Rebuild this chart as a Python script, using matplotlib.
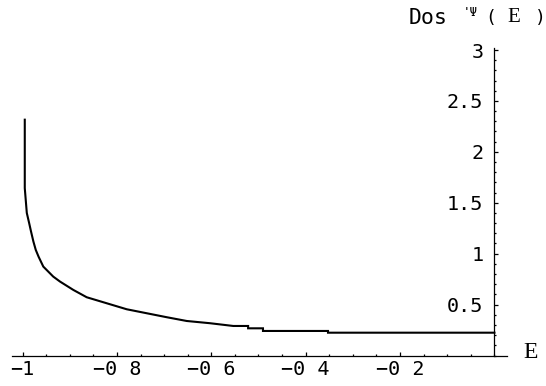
import matplotlib
matplotlib.use("Agg")
import matplotlib.pyplot as plt
from matplotlib.ticker import MultipleLocator

# values
energy = [-0.9953, -0.9953, -0.991, -0.986, -0.982, -0.977, -0.972, -0.966,
          -0.956, -0.935, -0.9206, -0.8924, -0.864, -0.8216, -0.7792, -0.7369,
          -0.6945, -0.6521, -0.6027, -0.5534, -0.522, -0.522, -0.4905, -0.4905,
          -0.3527, -0.3527, 0.0]
dos = [2.316, 1.644, 1.40, 1.30, 1.217, 1.119, 1.037, 0.97,
       0.873, 0.775, 0.726, 0.644, 0.572, 0.513, 0.454, 0.415,
       0.376, 0.339, 0.317, 0.290, 0.290, 0.267, 0.267, 0.241,
       0.241, 0.224, 0.224]

x_ticks = [-1, -0.8, -0.6, -0.4, -0.2]
x_labels = ["\u22121", "\u22120 8", "\u22120 6", "\u22120 4", "\u22120 2"]
y_ticks = [0.5, 1, 1.5, 2, 2.5, 3]
y_labels = ["0.5", "1", "1.5", "2", "2.5", "3"]

W, H = 546, 386
fig = plt.figure(figsize=(W / 100, H / 100), dpi=100)
# axes box in pixels: left 11.7, right 506.7, bottom axis at 355.5, top at 48
ax = fig.add_axes([11.7 / W, (H - 355.5) / H, 495 / W, 307.5 / H])
ax.set_xlim(-1.023, 0.026)
ax.set_ylim(0, 3.02)

ax.plot(energy, dos, color="black", lw=1.5, solid_joinstyle="miter")

for s in ["top", "right"]:
    ax.spines[s].set_visible(False)
ax.spines["left"].set_position(("data", 0))
ax.spines["bottom"].set_position(("data", 0))
for s in ["left", "bottom"]:
    ax.spines[s].set_linewidth(0.9)

mono = "DejaVu Sans Mono"
ax.set_xticks(x_ticks)
ax.set_xticklabels(x_labels, family=mono, fontsize=14.5)
ax.set_yticks(y_ticks)
ax.set_yticklabels(y_labels, family=mono, fontsize=14.5)
ax.xaxis.set_minor_locator(MultipleLocator(0.05))
ax.yaxis.set_minor_locator(MultipleLocator(0.1))
ax.tick_params(which="both", direction="in", width=0.9, colors="black")
ax.tick_params(which="major", length=2.6)
ax.tick_params(which="minor", length=1.5)
ax.tick_params(axis="x", pad=3)
ax.tick_params(axis="y", pad=8)

# axis labels
fig.text(531 / W, 1 - 352 / H, "E", family="Liberation Serif", fontsize=17,
         ha="center", va="center")
fig.text(409 / W, 1 - 18 / H, "Dos", family=mono, fontsize=15.5,
         ha="left", va="center")
fig.text(463 / W, 1 - 12 / H, "'\u03a8", family=mono, fontsize=9,
         ha="left", va="center")
fig.text(491 / W, 1 - 18 / H, "(", family=mono, fontsize=13,
         ha="center", va="center")
fig.text(514 / W, 1 - 18 / H, "E", family="Liberation Serif", fontsize=15,
         ha="center", va="center")
fig.text(540 / W, 1 - 18 / H, ")", family=mono, fontsize=13,
         ha="center", va="center")

fig.savefig("out.png", dpi=100)
